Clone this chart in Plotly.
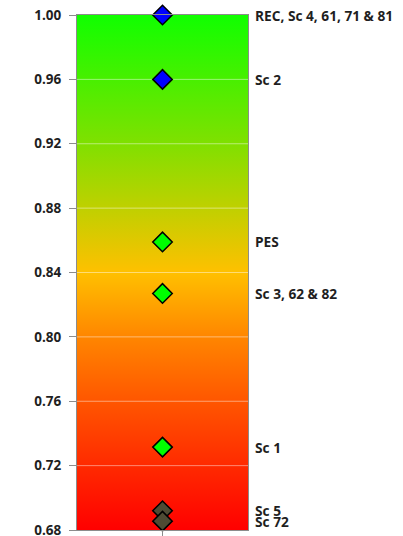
import plotly.graph_objects as go

# Data
labels = ["REC, Sc 4, 61, 71 & 81", "Sc 2", "PES", "Sc 3, 62 & 82", "Sc 1", "Sc 5", "Sc 72"]
values = [1.000, 0.960, 0.859, 0.827, 0.7315, 0.692, 0.6855]
y_ticks = [0.68, 0.72, 0.76, 0.80, 0.84, 0.88, 0.92, 0.96, 1.00]

# Styles
marker_colors = ["#0000ff", "#0000ff", "#00ff00", "#00ff00", "#00ff00", "#4e4b34", "#4e4b34"]
grad_scale = [[0.0, "#ff0000"], [0.125, "#ff2a00"], [0.25, "#ff5600"],
              [0.375, "#ff8600"], [0.5, "#ffc000"], [0.75, "#80e000"], [1.0, "#10ff00"]]
FONT = "Open Sans"

y_min, y_max = min(y_ticks), max(y_ticks)
x_lo, x_hi = -0.5, 0.5

fig = go.Figure()

# gradient background
fig.add_trace(go.Scatter(
    x=[x_lo, x_hi, x_hi, x_lo, x_lo],
    y=[y_min, y_min, y_max, y_max, y_min],
    mode="lines", line=dict(width=0), fill="toself",
    fillgradient=dict(type="vertical", colorscale=grad_scale),
    hoverinfo="skip", showlegend=False,
))

# gridlines (above background, below markers)
gx, gy = [], []
for t in y_ticks[1:-1]:
    gx += [x_lo, x_hi, None]
    gy += [t, t, None]
fig.add_trace(go.Scatter(
    x=gx, y=gy, mode="lines",
    line=dict(color="rgba(255,255,255,0.45)", width=1),
    hoverinfo="skip", showlegend=False,
))

# markers
fig.add_trace(go.Scatter(
    x=[0] * len(values), y=values, mode="markers",
    marker=dict(symbol="diamond", size=15, color=marker_colors,
                line=dict(color="#000000", width=1.5)),
    showlegend=False, cliponaxis=False,
))

for lab, v in zip(labels, values):
    fig.add_annotation(
        x=1, xref="paper", y=v, yref="y", text=lab,
        showarrow=False, xanchor="left", yanchor="middle", xshift=5,
        font=dict(family=FONT, size=13.7, color="#1f1f1f", weight="bold"),
    )

fig.update_xaxes(
    range=[x_lo, x_hi], showgrid=False, zeroline=False, automargin=False,
    showline=True, linecolor="#8c8c8c", linewidth=1, mirror=True,
    tickvals=[0], ticktext=[""], ticks="outside", ticklen=5, tickcolor="#8c8c8c",
)
fig.update_yaxes(
    range=[y_min, y_max], tickvals=y_ticks, tickformat=".2f",
    showgrid=False, zeroline=False, automargin=False, ticklabeloverflow="allow",
    showline=True, linecolor="#8c8c8c", linewidth=1, mirror=True,
    ticks="outside", ticklen=7, tickcolor="#8c8c8c", ticklabelstandoff=5,
    tickfont=dict(family=FONT, size=13.5, color="#1f1f1f", weight="bold"),
)

fig.update_layout(
    width=403, height=536,
    margin=dict(l=77, r=155, t=15, b=6),
    paper_bgcolor="white", plot_bgcolor="white",
    showlegend=False,
)

fig.write_html("out.html", config={"displayModeBar": False},
               post_script="document.body.style.margin='0';")
